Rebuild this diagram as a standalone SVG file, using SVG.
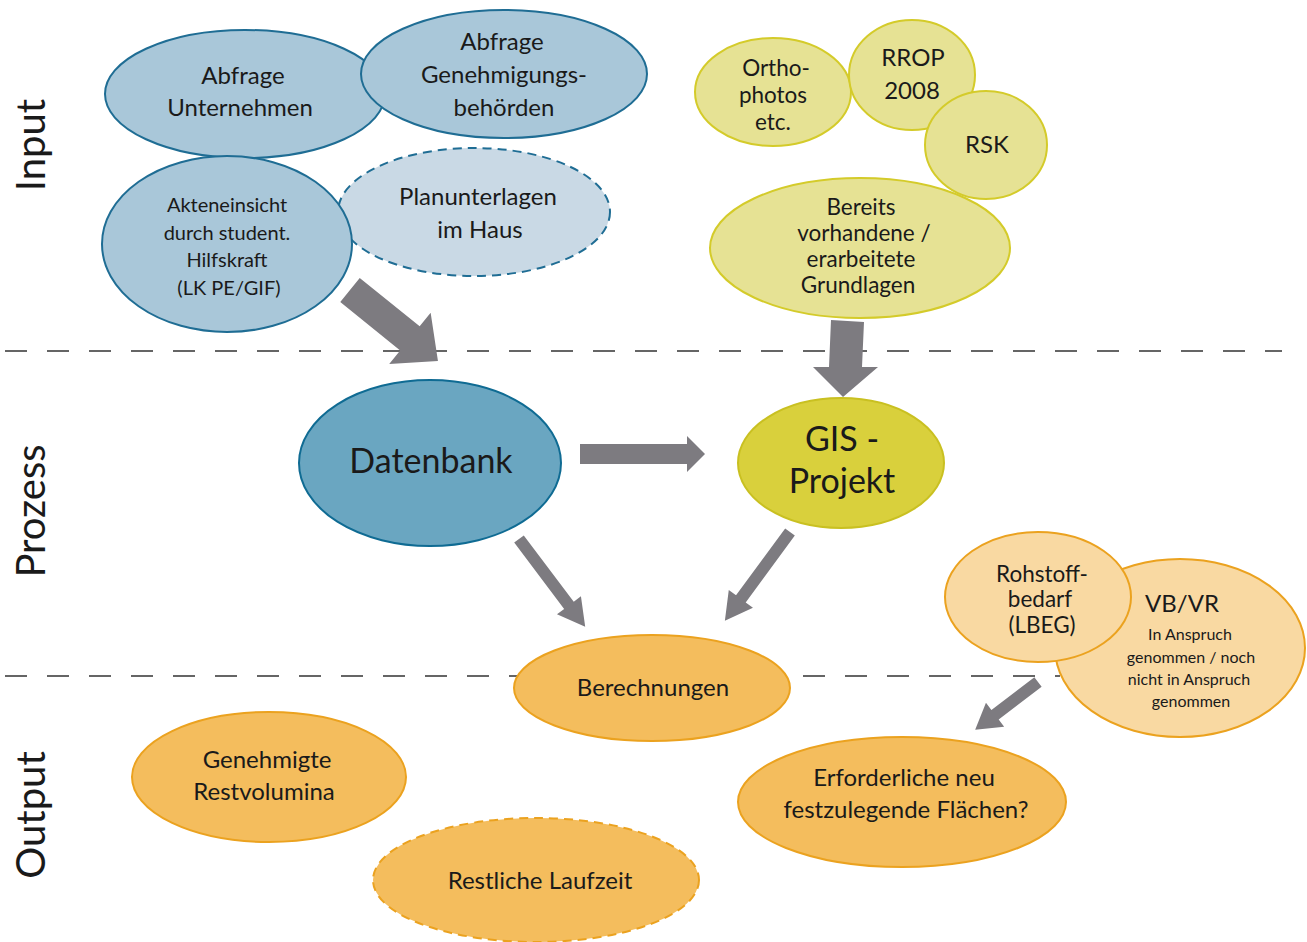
<svg xmlns="http://www.w3.org/2000/svg" width="1307" height="942" viewBox="0 0 1307 942">
<style>
text{font-family:"Lato","Liberation Sans",sans-serif;fill:#1a1a1a;text-anchor:middle}
.t24{font-size:24px}
.t23{font-size:22.5px}
.t20{font-size:20px}
.t16{font-size:16px}
.t34{font-size:34px}
.side{font-size:40px;font-weight:400}
.blue{fill:#a9c7d9;stroke:#1f6d94;stroke-width:2}
.blue2{fill:#c9d9e5;stroke:#1f6d94;stroke-width:2;stroke-dasharray:9 6}
.dark{fill:#6aa6c1;stroke:#0f6b93;stroke-width:2}
.yel{fill:#e6e294;stroke:#d4cb2a;stroke-width:2}
.gis{fill:#d9d03c;stroke:#c9c021;stroke-width:2}
.org{fill:#f4bd5d;stroke:#eba21f;stroke-width:2}
.orgd{fill:#f4bd5d;stroke:#eba21f;stroke-width:2;stroke-dasharray:9 6}
.lorg{fill:#f9d9a2;stroke:#eba21f;stroke-width:2}
.sep{stroke:#333;stroke-width:1.5;stroke-dasharray:22 20;fill:none}
.arr{fill:#7d7b80}
</style>
<g id="separators">
<line class="sep" x1="5" y1="351" x2="1282" y2="351"/>
<line class="sep" x1="5" y1="676" x2="1060" y2="676"/>
</g>
<g id="lane-labels">
<text class="side" transform="translate(45,145) rotate(-90)">Input</text>
<text class="side" transform="translate(45,511) rotate(-90)">Prozess</text>
<text class="side" transform="translate(45,815) rotate(-90)">Output</text>
</g>
<g id="abfrage-unternehmen">
<ellipse class="blue" cx="245" cy="94" rx="140" ry="64"/>
<text class="t24" x="243" y="84">Abfrage</text>
<text class="t24" x="240" y="116">Unternehmen</text>
</g>
<g id="abfrage-genehmigungsbehoerden">
<ellipse class="blue" cx="504" cy="74" rx="143" ry="64"/>
<text class="t24" x="502" y="50">Abfrage</text>
<text class="t24" x="504" y="83">Genehmigungs-</text>
<text class="t24" x="504" y="116">behörden</text>
</g>
<g id="planunterlagen">
<ellipse class="blue2" cx="474" cy="212" rx="136" ry="64"/>
<text class="t24" x="478" y="205">Planunterlagen</text>
<text class="t24" x="480" y="238">im Haus</text>
</g>
<g id="akteneinsicht">
<ellipse class="blue" cx="227" cy="244" rx="125" ry="88"/>
<text class="t20" x="227" y="212">Akteneinsicht</text>
<text class="t20" x="227" y="240">durch student.</text>
<text class="t20" x="227" y="267">Hilfskraft</text>
<text class="t20" x="229" y="295">(LK PE/GIF)</text>
</g>
<g id="orthophotos">
<ellipse class="yel" cx="773" cy="92" rx="78" ry="54"/>
<text class="t23" x="776" y="76">Ortho-</text>
<text class="t23" x="773" y="103">photos</text>
<text class="t23" x="773" y="130">etc.</text>
</g>
<g id="rrop">
<ellipse class="yel" cx="912" cy="75" rx="63" ry="55"/>
<text class="t24" x="913" y="66">RROP</text>
<text class="t24" x="912" y="99">2008</text>
</g>
<g id="grundlagen">
<ellipse class="yel" cx="860" cy="248" rx="150" ry="70"/>
<text class="t23" x="861" y="215">Bereits</text>
<text class="t23" x="864" y="241">vorhandene /</text>
<text class="t23" x="861" y="267">erarbeitete</text>
<text class="t23" x="858" y="293">Grundlagen</text>
</g>
<g id="rsk">
<ellipse class="yel" cx="986" cy="145" rx="61" ry="54"/>
<text class="t24" x="987" y="153">RSK</text>
</g>
<g id="datenbank">
<ellipse class="dark" cx="430" cy="463" rx="131" ry="83"/>
<text class="t34" x="431" y="473">Datenbank</text>
</g>
<g id="gis-projekt">
<ellipse class="gis" cx="841" cy="463" rx="103" ry="65"/>
<text class="t34" x="842" y="451">GIS -</text>
<text class="t34" x="842" y="493">Projekt</text>
</g>
<g id="berechnungen">
<ellipse class="org" cx="652" cy="688" rx="138" ry="53"/>
<text class="t24" x="653" y="696">Berechnungen</text>
</g>
<g id="vb-vr">
<ellipse class="lorg" cx="1180" cy="648" rx="125" ry="89"/>
<text class="t24" x="1182" y="612">VB/VR</text>
<text class="t16" x="1190" y="640">In Anspruch</text>
<text class="t16" x="1191" y="663">genommen / noch</text>
<text class="t16" x="1189" y="685">nicht in Anspruch</text>
<text class="t16" x="1191" y="707">genommen</text>
</g>
<g id="rohstoffbedarf">
<ellipse class="lorg" cx="1038" cy="597" rx="93" ry="65"/>
<text class="t23" x="1042" y="582">Rohstoff-</text>
<text class="t23" x="1040" y="607">bedarf</text>
<text class="t23" x="1042" y="633">(LBEG)</text>
</g>
<g id="restvolumina">
<ellipse class="org" cx="269" cy="777" rx="137" ry="65"/>
<text class="t24" x="267" y="768">Genehmigte</text>
<text class="t24" x="264" y="800">Restvolumina</text>
</g>
<g id="laufzeit">
<ellipse class="orgd" cx="536" cy="880" rx="163" ry="62"/>
<text class="t24" x="540" y="889">Restliche Laufzeit</text>
</g>
<g id="flaechen">
<ellipse class="org" cx="902" cy="802" rx="164" ry="65"/>
<text class="t24" x="904" y="786">Erforderliche neu</text>
<text class="t24" x="906" y="818">festzulegende Flächen?</text>
</g>
<g id="connectors">
<polygon class="arr" transform="translate(350,290) rotate(38.9)" points="0,-15.5 77,-15.5 77,-33 113,0 77,33 77,15.5 0,15.5"/>
<polygon class="arr" points="831,320 864,322 862,367 878,367 843,397 813,367 829,367"/>
<polygon class="arr" points="580,444 687,444 687,436 705,454 687,472 687,464 580,464"/>
<polygon class="arr" transform="translate(519,539) rotate(53)" points="0,-6 83,-6 83,-15 110,0 83,15 83,6 0,6"/>
<polygon class="arr" transform="translate(790,532) rotate(126.3)" points="0,-6 83,-6 83,-15 110,0 83,15 83,6 0,6"/>
<polygon class="arr" transform="translate(1038,682) rotate(142.7)" points="0,-6 54,-6 54,-15 79,0 54,15 54,6 0,6"/>
</g>
</svg>
